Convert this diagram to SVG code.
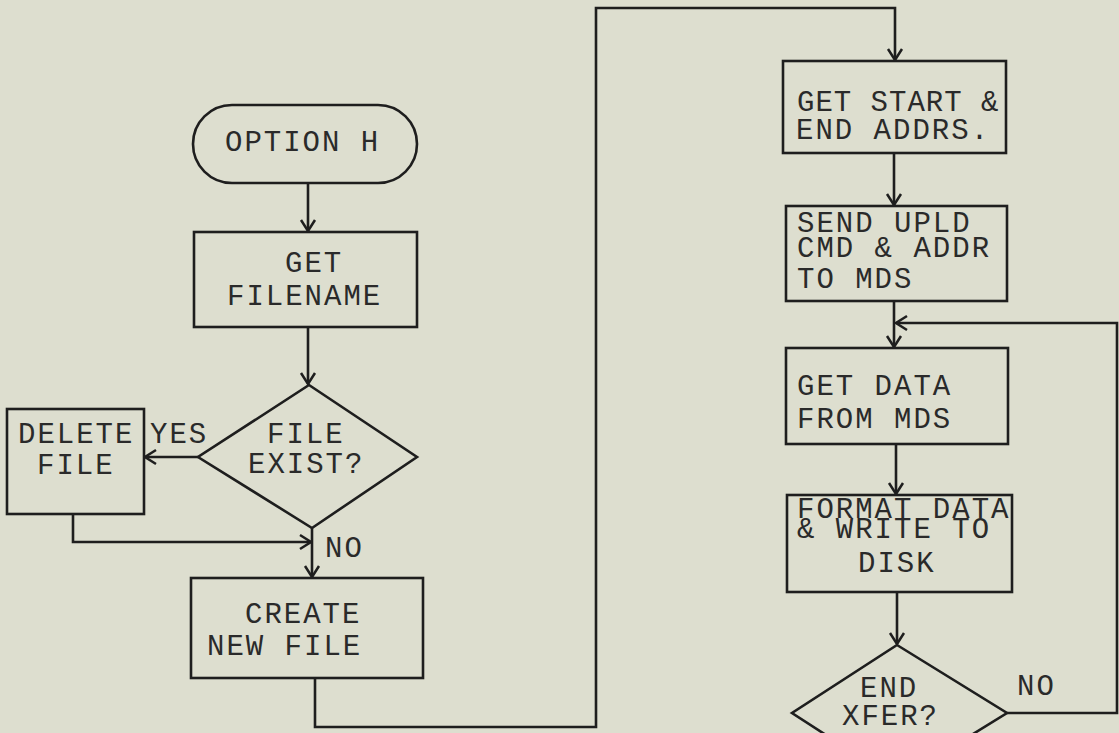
<svg xmlns="http://www.w3.org/2000/svg" width="1119" height="733" viewBox="0 0 1119 733">
<style>
.s{fill:none;stroke:#1e1e1e;stroke-width:2.6;stroke-linejoin:miter}
.c{fill:none;stroke:#1e1e1e;stroke-width:2.6}
text{font-family:"Liberation Mono","Courier New",monospace;font-size:29px;letter-spacing:2px;fill:#2a2a2a}
text.n{letter-spacing:1px}
</style>
<defs>
<marker id="a" viewBox="-13 -9 15 18" refX="0" refY="0" markerWidth="15" markerHeight="18" markerUnits="userSpaceOnUse" orient="auto">
<path d="M-11,-7 L0,0 L-11,7" fill="none" stroke="#1e1e1e" stroke-width="2.5"/>
</marker>
</defs>
<rect width="1119" height="733" fill="#dddecf"/>
<g id="connectors">
<path class="c" d="M308,183 V231" marker-end="url(#a)"/>
<path class="c" d="M308,327 V384" marker-end="url(#a)"/>
<path class="c" d="M198,457 H145" marker-end="url(#a)"/>
<path class="c" d="M73,514 V542 H311" marker-end="url(#a)"/>
<path class="c" d="M312,528 V577" marker-end="url(#a)"/>
<path class="c" d="M315,678 V727 H596 V8 H895 V60" marker-end="url(#a)"/>
<path class="c" d="M894,153 V205" marker-end="url(#a)"/>
<path class="c" d="M894,301 V347" marker-end="url(#a)"/>
<path class="c" d="M1007,713 H1117 V323 H896" marker-end="url(#a)"/>
<path class="c" d="M896,444 V494" marker-end="url(#a)"/>
<path class="c" d="M897,592 V644" marker-end="url(#a)"/>
</g>
<g id="option-h">
<rect class="s" x="193" y="105" width="224" height="78" rx="39" ry="39"/>
<text x="225" y="151">OPTION H</text>
</g>
<g id="get-filename">
<rect class="s" x="194" y="232" width="223" height="95"/>
<text x="285" y="272">GET</text>
<text x="227" y="305">FILENAME</text>
</g>
<g id="file-exist">
<polygon class="s" points="309,385 417,457 312,528 198,457"/>
<text x="267" y="443">FILE</text>
<text x="248" y="473">EXIST?</text>
</g>
<g id="delete-file">
<rect class="s" x="7" y="409" width="137" height="105"/>
<text x="18" y="443">DELETE</text>
<text x="37" y="474">FILE</text>
</g>
<g id="labels-left">
<text x="150" y="443">YES</text>
<text x="325" y="557">NO</text>
</g>
<g id="create-new-file">
<rect class="s" x="191" y="578" width="232" height="100"/>
<text x="245" y="623">CREATE</text>
<text x="207" y="655">NEW FILE</text>
</g>
<g id="get-start">
<rect class="s" x="783" y="61" width="223" height="92"/>
<text class="n" x="797" y="111">GET START &amp;</text>
<text x="796" y="139">END ADDRS.</text>
</g>
<g id="send-upld">
<rect class="s" x="786" y="206" width="221" height="95"/>
<text x="797" y="232">SEND UPLD</text>
<text x="797" y="257">CMD &amp; ADDR</text>
<text x="797" y="288">TO MDS</text>
</g>
<g id="get-data">
<rect class="s" x="786" y="348" width="222" height="96"/>
<text x="797" y="395">GET DATA</text>
<text x="797" y="428">FROM MDS</text>
</g>
<g id="format-data">
<rect class="s" x="787" y="495" width="225" height="97"/>
<text x="797" y="518">FORMAT DATA</text>
<text x="797" y="538">&amp; WRITE TO</text>
<text x="858" y="572">DISK</text>
</g>
<g id="end-xfer">
<polygon class="s" points="897,645 1007,713 897,781 792,713"/>
<text x="860" y="697">END</text>
<text x="842" y="725">XFER?</text>
</g>
<g id="label-no-right">
<text x="1017" y="695">NO</text>
</g>
</svg>
